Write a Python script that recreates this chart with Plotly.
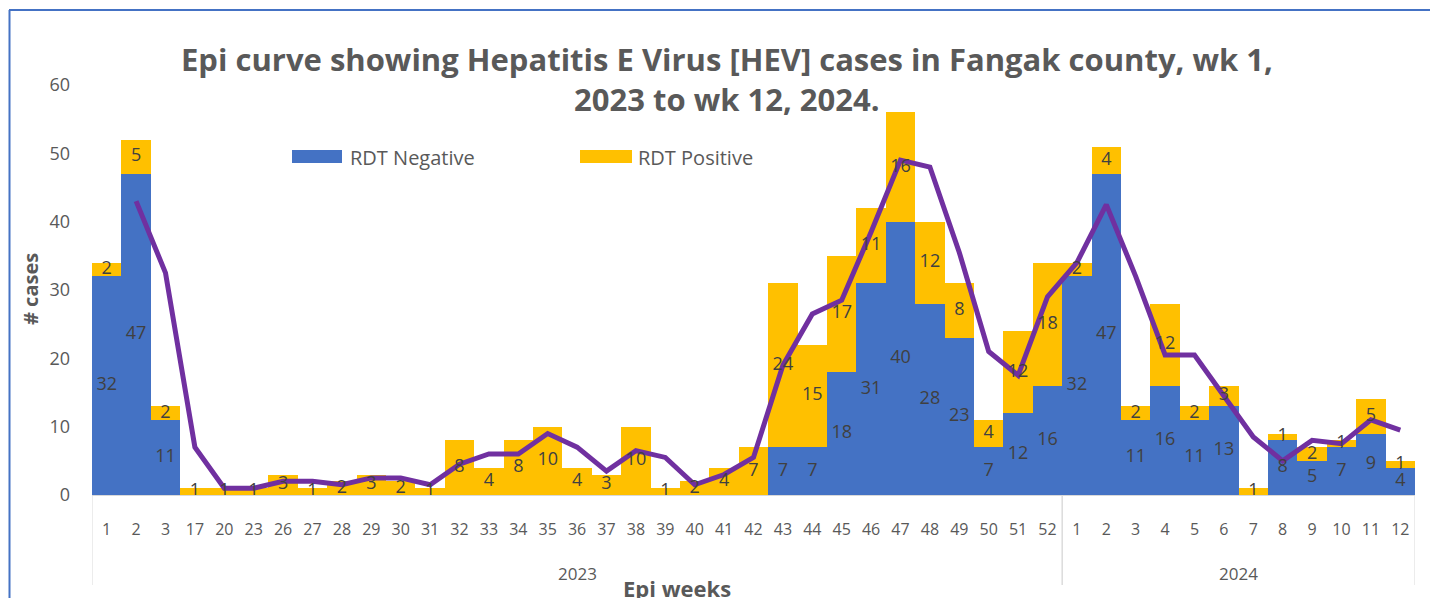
import plotly.graph_objects as go

# ---------------- data ----------------
years = ["2023"] * 33 + ["2024"] * 12
weeks = ["1", "2", "3", "17", "20", "23", "26", "27", "28", "29", "30", "31", "32", "33",
         "34", "35", "36", "37", "38", "39", "40", "41", "42", "43", "44", "45", "46", "47",
         "48", "49", "50", "51", "52",
         "1", "2", "3", "4", "5", "6", "7", "8", "9", "10", "11", "12"]
rdt_negative = [32, 47, 11, 0, 0, 0, 0, 0, 0, 0, 0, 0, 0, 0, 0, 0, 0, 0, 0, 0, 0, 0, 0,
                7, 7, 18, 31, 40, 28, 23, 7, 12, 16,
                32, 47, 11, 16, 11, 13, 0, 8, 5, 7, 9, 4]
rdt_positive = [2, 5, 2, 1, 1, 1, 3, 1, 2, 3, 2, 1, 8, 4, 8, 10, 4, 3, 10, 1, 2, 4, 7,
                24, 15, 17, 11, 16, 12, 8, 4, 12, 18,
                2, 4, 2, 12, 2, 3, 1, 1, 2, 1, 5, 1]
# 2-period moving average line
moving_avg = [None, 43, 32.5, 7, 1, 1, 2, 2, 1.5, 2.5, 2.5, 1.5, 4.5, 6, 6, 9, 7, 3.5,
              6.5, 5.5, 1.5, 3, 5.5, 19, 26.5, 28.5, 38.5, 49, 48, 35.5, 21, 17.5, 29,
              34, 42.5, 32, 20.5, 20.5, 14.5, 8.5, 5, 8, 7.5, 11, 9.5]

title_line1 = "Epi curve showing Hepatitis E Virus [HEV] cases in Fangak county, wk 1,"
title_line2 = "2023 to wk 12, 2024."

# ---------------- style ----------------
BLUE = "#4472C4"
GOLD = "#FFC000"
PURPLE = "#7030A0"
GREY = "#595959"
LABEL = "#404040"
DIV = "#D9D9D9"
FONT = "Open Sans, Lato, sans-serif"

# target plot area in screen pixels (page has an 8px body offset)
OFF = 8
L, R, T, B = 92, 1415, 85, 495
W, H = R - L, B - T


def xp(px):
    return (px - L) / W


def yp(py):
    return (B - py) / H


pos = list(range(len(weeks)))  # slot index of each week on the axis

fig = go.Figure()
fig.add_trace(go.Bar(x=pos, y=rdt_negative, name="RDT Negative", width=1,
                     marker=dict(color=BLUE, line_width=0)))
fig.add_trace(go.Bar(x=pos, y=rdt_positive, name="RDT Positive", width=1,
                     marker=dict(color=GOLD, line_width=0)))
fig.add_trace(go.Scatter(x=pos, y=moving_avg, mode="lines", line=dict(color=PURPLE, width=5),
                         connectgaps=False, showlegend=False, hoverinfo="skip"))

# data labels, centred in each segment
lx, ly, lt = [], [], []
for i in pos:
    if rdt_negative[i]:
        lx.append(i); ly.append(rdt_negative[i] / 2); lt.append(str(rdt_negative[i]))
    if rdt_positive[i]:
        lx.append(i); ly.append(rdt_negative[i] + rdt_positive[i] / 2); lt.append(str(rdt_positive[i]))
fig.add_trace(go.Scatter(x=lx, y=ly, text=lt, mode="text", textposition="middle center",
                         textfont=dict(family=FONT, size=18, color=LABEL), showlegend=False, hoverinfo="skip"))

fig.update_layout(
    barmode="stack", bargap=0,
    width=1438, height=598,
    margin=dict(l=L - OFF, r=1438 - (R - OFF), t=T - OFF, b=598 - (B - OFF)),
    paper_bgcolor="white", plot_bgcolor="white",
    showlegend=False,
    font=dict(family=FONT, color=GREY),
)
fig.update_yaxes(range=[0, 60], dtick=10, showgrid=False, zeroline=False, showline=False,
                 automargin=False,
                 tickfont=dict(family=FONT, size=18, color=GREY), ticklabelstandoff=21)
fig.update_xaxes(range=[-0.5, len(weeks) - 0.5], tickmode="array", tickvals=pos, ticktext=weeks,
                 showline=True, linecolor=DIV, linewidth=1, showgrid=False, zeroline=False,
                 automargin=False, tickangle=0, ticks="",
                 tickfont=dict(family=FONT, size=16, color=GREY), ticklabelstandoff=20)

# year groups
groups = []
for i, yr in enumerate(years):
    if not groups or groups[-1][0] != yr:
        groups.append([yr, i, i])
    else:
        groups[-1][2] = i

ann = []
shapes = []
for yr, a, b in groups:
    ann.append(dict(text=yr, x=(a + b) / 2, y=yp(573), xref="x", yref="paper", showarrow=False,
                    font=dict(size=17, color=GREY, family=FONT), xanchor="center", yanchor="middle"))
    for edge in (a - 0.5, b + 0.5):
        shapes.append(dict(type="line", xref="x", yref="paper", x0=edge, x1=edge, y0=0, y1=yp(585),
                           line=dict(color=DIV, width=1)))

ann.append(dict(text=f"<b>{title_line1}</b>", x=xp(727), y=yp(59), xref="paper", yref="paper",
                showarrow=False, font=dict(size=31, color=GREY, family=FONT), xanchor="center", yanchor="middle"))
ann.append(dict(text=f"<b>{title_line2}</b>", x=xp(727), y=yp(99), xref="paper", yref="paper",
                showarrow=False, font=dict(size=31, color=GREY, family=FONT), xanchor="center", yanchor="middle"))
ann.append(dict(text="<b># cases</b>", x=xp(30), y=yp(289), xref="paper", yref="paper", textangle=-90,
                showarrow=False, font=dict(size=20, color=GREY, family=FONT), xanchor="center", yanchor="middle"))
ann.append(dict(text="<b>Epi weeks</b>", x=xp(677), y=yp(588), xref="paper", yref="paper",
                showarrow=False, font=dict(size=22, color=GREY, family=FONT), xanchor="center", yanchor="middle"))
ann.append(dict(text="RDT Negative", x=xp(348), y=yp(157), xref="paper", yref="paper",
                showarrow=False, font=dict(size=20, color=GREY, family=FONT), xanchor="left", yanchor="middle"))
ann.append(dict(text="RDT Positive", x=xp(636), y=yp(157), xref="paper", yref="paper",
                showarrow=False, font=dict(size=20, color=GREY, family=FONT), xanchor="left", yanchor="middle"))
# caption above the chart box (cut off at the top edge, as in the source)
ann.append(dict(text="Figure 3: Epi curve of HEV cases in Fangak county", x=xp(0), y=yp(-6), xref="paper", yref="paper",
                showarrow=False, font=dict(size=17, color=BLUE, family=FONT), xanchor="left", yanchor="middle"))
fig.update_layout(annotations=ann)

shapes += [
    dict(type="rect", xref="paper", yref="paper", x0=xp(292), x1=xp(342), y0=yp(163), y1=yp(150),
         fillcolor=BLUE, line_width=0),
    dict(type="rect", xref="paper", yref="paper", x0=xp(580), x1=xp(632), y0=yp(163), y1=yp(150),
         fillcolor=GOLD, line_width=0),
    dict(type="line", xref="paper", yref="paper", x0=xp(9.5), x1=xp(9.5), y0=yp(10), y1=yp(610),
         line=dict(color=BLUE, width=2)),
    dict(type="line", xref="paper", yref="paper", x0=xp(9), x1=xp(1450), y0=yp(10), y1=yp(10),
         line=dict(color=BLUE, width=2)),
]
fig.update_layout(shapes=shapes)

fig.write_html("out.html")
